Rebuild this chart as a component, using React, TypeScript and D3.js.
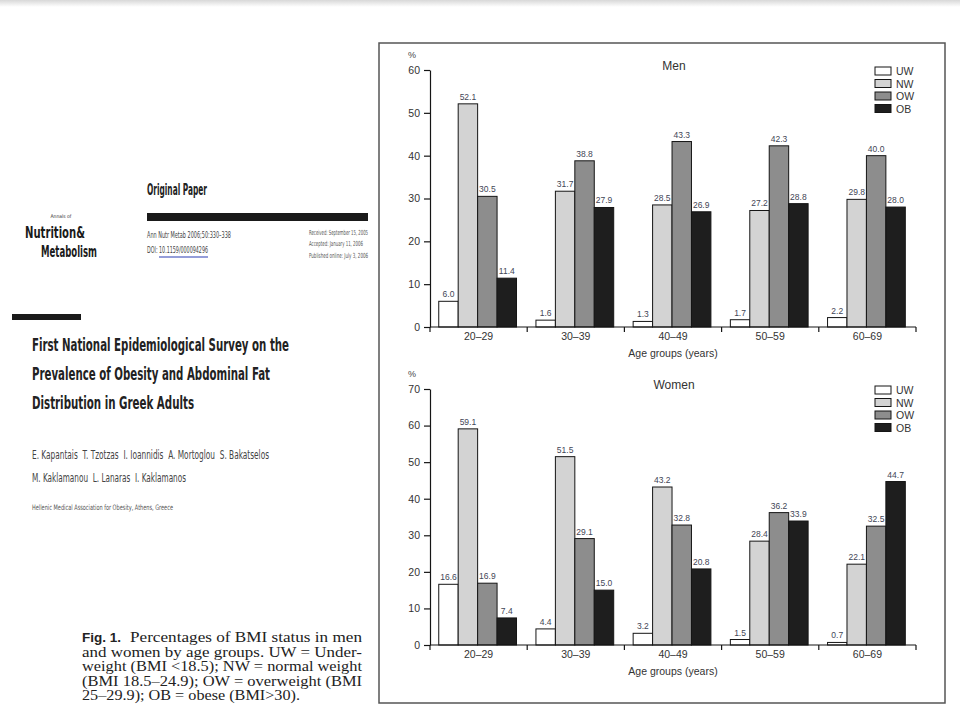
import * as d3 from 'd3';
import { useEffect, useRef } from 'react';

// age groups on the x axis, BMI classes within each group
const ageGroups = ['20–29', '30–39', '40–49', '50–59', '60–69'];
const bmiClasses = ['UW', 'NW', 'OW', 'OB'];
const bmiFills = ['#ffffff', '#d3d3d3', '#8d8d8d', '#1e1e1e'];

const menUW = [6.0, 1.6, 1.3, 1.7, 2.2];
const menNW = [52.1, 31.7, 28.5, 27.2, 29.8];
const menOW = [30.5, 38.8, 43.3, 42.3, 40.0];
const menOB = [11.4, 27.9, 26.9, 28.8, 28.0];
const menTicks = [0, 10, 20, 30, 40, 50, 60];

const womenUW = [16.6, 4.4, 3.2, 1.5, 0.7];
const womenNW = [59.1, 51.5, 43.2, 28.4, 22.1];
const womenOW = [16.9, 29.1, 32.8, 36.2, 32.5];
const womenOB = [7.4, 15.0, 20.8, 33.9, 44.7];
const womenTicks = [0, 10, 20, 30, 40, 50, 60, 70];

const captionLines = [
  'Percentages of BMI status in men',
  'and women by age groups. UW = Under-',
  'weight (BMI <18.5); NW = normal weight',
  '(BMI 18.5–24.9); OW = overweight (BMI',
  '25–29.9); OB = obese (BMI>30).',
];

const chartFont = "'Liberation Sans', Arial, sans-serif";
const narrowFont = "'Liberation Sans Narrow', 'DejaVu Sans Condensed', 'Liberation Sans', sans-serif";

interface PanelOpts {
  title: string;
  series: number[][];
  ticks: number[];
  y0: number;
  yTop: number;
}

function drawPanel(root: d3.Selection<SVGGElement, unknown, null, undefined>, o: PanelOpts) {
  const g = root.append('g');
  const yMax = o.ticks[o.ticks.length - 1];

  const x0 = d3.scaleBand().domain(ageGroups).range([430, 916]).padding(0);
  const x1 = d3.scaleBand().domain(bmiClasses).range([0, x0.bandwidth()])
    .paddingInner(0).paddingOuter(0.5).align(0.45);
  const y = d3.scaleLinear().domain([0, yMax]).range([o.y0, o.yTop]);

  // one record per bar
  const bars = ageGroups.flatMap((ag, i) =>
    bmiClasses.map((c, j) => ({ ag, c, j, v: o.series[j][i] })));

  g.selectAll('rect.bar')
    .data(bars)
    .join('rect')
    .attr('class', 'bar')
    .attr('x', d => (x0(d.ag) ?? 0) + (x1(d.c) ?? 0))
    .attr('y', d => y(d.v))
    .attr('width', x1.bandwidth())
    .attr('height', d => o.y0 - y(d.v))
    .attr('fill', d => bmiFills[d.j])
    .attr('stroke', '#151515')
    .attr('stroke-width', 1);

  g.selectAll('text.val')
    .data(bars)
    .join('text')
    .attr('class', 'val')
    .attr('x', d => (x0(d.ag) ?? 0) + (x1(d.c) ?? 0) + x1.bandwidth() / 2)
    .attr('y', d => y(d.v) - 4)
    .attr('text-anchor', 'middle')
    .style('font-family', chartFont)
    .style('font-size', '8.5px')
    .style('fill', '#3f4656')
    .text(d => d.v.toFixed(1));

  // y axis
  const ya = g.append('g')
    .attr('transform', 'translate(430,0)')
    .call(d3.axisLeft(y).tickValues(o.ticks).tickSize(6).tickSizeOuter(0).tickPadding(4));
  ya.selectAll('path,line').attr('stroke', '#151515').attr('stroke-width', 1.2);
  ya.selectAll('text').style('font-family', chartFont).style('font-size', '10.5px').style('fill', '#333');
  g.append('line')
    .attr('x1', 430).attr('x2', 430).attr('y1', o.y0).attr('y2', o.y0 + 5)
    .attr('stroke', '#151515').attr('stroke-width', 1.2);

  // x axis with ticks at group boundaries
  g.append('line')
    .attr('x1', 430).attr('x2', 916).attr('y1', o.y0).attr('y2', o.y0)
    .attr('stroke', '#151515').attr('stroke-width', 1.2);
  const bounds = [...ageGroups.slice(1).map(a => x0(a) ?? 0), 916];
  g.selectAll('line.xt')
    .data(bounds)
    .join('line')
    .attr('class', 'xt')
    .attr('x1', d => d).attr('x2', d => d)
    .attr('y1', o.y0).attr('y2', o.y0 + 5)
    .attr('stroke', '#151515').attr('stroke-width', 1.2);
  g.selectAll('text.cat')
    .data(ageGroups)
    .join('text')
    .attr('class', 'cat')
    .attr('x', d => (x0(d) ?? 0) + x0.bandwidth() / 2)
    .attr('y', o.y0 + 13)
    .attr('text-anchor', 'middle')
    .style('font-family', chartFont)
    .style('font-size', '10.5px')
    .style('fill', '#333')
    .text(d => d);
  g.append('text')
    .attr('x', 673).attr('y', o.y0 + 30)
    .attr('text-anchor', 'middle')
    .style('font-family', chartFont).style('font-size', '10.5px').style('fill', '#333')
    .text('Age groups (years)');

  g.append('text')
    .attr('x', 412).attr('y', o.yTop - 12)
    .attr('text-anchor', 'middle')
    .style('font-family', chartFont).style('font-size', '9px').style('fill', '#444')
    .text('%');

  g.append('text')
    .attr('x', 674).attr('y', o.yTop)
    .attr('text-anchor', 'middle')
    .style('font-family', chartFont).style('font-size', '12px').style('fill', '#333')
    .text(o.title);

  // legend
  const lg = g.append('g').attr('transform', `translate(875,${o.yTop - 3})`);
  bmiClasses.forEach((c, i) => {
    lg.append('rect')
      .attr('x', 0).attr('y', i * 12.5).attr('width', 16).attr('height', 8)
      .attr('fill', bmiFills[i]).attr('stroke', '#151515').attr('stroke-width', 1);
    lg.append('text')
      .attr('x', 21).attr('y', i * 12.5 + 8)
      .style('font-family', chartFont).style('font-size', '10.5px').style('fill', '#333')
      .text(c);
  });
}

export default function App() {
  const chartRef = useRef<SVGGElement>(null);

  useEffect(() => {
    if (!chartRef.current) return;
    const root = d3.select(chartRef.current);
    root.selectAll('*').remove(); // StrictMode runs this twice

    drawPanel(root, { title: 'Men', series: [menUW, menNW, menOW, menOB], ticks: menTicks, y0: 327, yTop: 70 });
    drawPanel(root, { title: 'Women', series: [womenUW, womenNW, womenOW, womenOB], ticks: womenTicks, y0: 645, yTop: 389 });
  }, []);

  const capX = 82;
  const capW = 280;

  return (
    <div style={{ position: 'absolute', left: 0, top: 0 }}>
      <svg width={960} height={720} style={{ display: 'block', background: '#fff' }}>
        <defs>
          <linearGradient id="topband" x1="0" y1="0" x2="0" y2="1">
            <stop offset="0" stopColor="#d8d8d8" />
            <stop offset="1" stopColor="#ffffff" />
          </linearGradient>
        </defs>
        <rect x={0} y={0} width={960} height={7} fill="url(#topband)" />

        {/* journal header */}
        <text x={61} y={218} textAnchor="middle" fontFamily={narrowFont} fontSize={5} fill="#333">Annals of</text>
        <text x={25} y={238} fontFamily={narrowFont} fontWeight="bold" fontSize={15} fill="#1a1a1a"
          textLength={60} lengthAdjust="spacingAndGlyphs">Nutrition&amp;</text>
        <text x={41} y={257} fontFamily={narrowFont} fontWeight="bold" fontSize={15} fill="#1a1a1a"
          textLength={56} lengthAdjust="spacingAndGlyphs">Metabolism</text>

        <text x={147} y={195} fontFamily={narrowFont} fontWeight="bold" fontSize={15} fill="#222"
          textLength={60} lengthAdjust="spacingAndGlyphs">Original Paper</text>
        <rect x={147} y={213} width={221} height={8} fill="#1a1a1a" />
        <text x={147} y={238} fontFamily={narrowFont} fontSize={9} fill="#444"
          textLength={84} lengthAdjust="spacingAndGlyphs">Ann Nutr Metab 2006;50:330–338</text>
        <text x={147} y={253} fontFamily={narrowFont} fontSize={9} fill="#444"
          textLength={61} lengthAdjust="spacingAndGlyphs">DOI: 10.1159/000094296</text>
        <line x1={159} x2={208} y1={257} y2={257} stroke="#2b3cb4" strokeWidth={1.2} />
        <text x={309} y={235} fontFamily={narrowFont} fontSize={7} fill="#555"
          textLength={59} lengthAdjust="spacingAndGlyphs">Received: September 15, 2005</text>
        <text x={309} y={246} fontFamily={narrowFont} fontSize={7} fill="#555"
          textLength={54} lengthAdjust="spacingAndGlyphs">Accepted: January 11, 2006</text>
        <text x={309} y={258} fontFamily={narrowFont} fontSize={7} fill="#555"
          textLength={59} lengthAdjust="spacingAndGlyphs">Published online: July 3, 2006</text>

        <rect x={12} y={314} width={69} height={6} fill="#1a1a1a" />
        <text x={32} y={351} fontFamily={narrowFont} fontWeight="bold" fontSize={17.5} fill="#222"
          textLength={257} lengthAdjust="spacingAndGlyphs">First National Epidemiological Survey on the</text>
        <text x={32} y={380} fontFamily={narrowFont} fontWeight="bold" fontSize={17.5} fill="#222"
          textLength={238} lengthAdjust="spacingAndGlyphs">Prevalence of Obesity and Abdominal Fat</text>
        <text x={32} y={409} fontFamily={narrowFont} fontWeight="bold" fontSize={17.5} fill="#222"
          textLength={162} lengthAdjust="spacingAndGlyphs">Distribution in Greek Adults</text>

        <text x={32} y={459} fontFamily={narrowFont} fontSize={13} fill="#444"
          textLength={237} lengthAdjust="spacingAndGlyphs" style={{ whiteSpace: 'pre' }}>E. Kapantais  T. Tzotzas  I. Ioannidis  A. Mortoglou  S. Bakatselos</text>
        <text x={32} y={482} fontFamily={narrowFont} fontSize={13} fill="#444"
          textLength={154} lengthAdjust="spacingAndGlyphs" style={{ whiteSpace: 'pre' }}>M. Kaklamanou  L. Lanaras  I. Kaklamanos</text>
        <text x={32} y={510} fontFamily={narrowFont} fontSize={7.5} fill="#555"
          textLength={141} lengthAdjust="spacingAndGlyphs">Hellenic Medical Association for Obesity, Athens, Greece</text>

        {/* figure caption */}
        <text x={capX} y={642} fontFamily={chartFont} fontWeight="bold" fontSize={13.5} fill="#222">Fig. 1.</text>
        {captionLines.map((line, i) => (
          <text key={i} x={i === 0 ? capX + 48 : capX} y={642 + i * 14.5}
            fontFamily="'Liberation Serif', 'Times New Roman', serif" fontSize={15} fill="#222"
            textLength={i === 0 ? capW - 48 : i === 4 ? 218 : capW} lengthAdjust="spacingAndGlyphs">{line}</text>
        ))}

        {/* chart frame */}
        <rect x={379} y={43} width={566} height={660} fill="none" stroke="#555" strokeWidth={1.5} />
        <g ref={chartRef} />
      </svg>
    </div>
  );
}
